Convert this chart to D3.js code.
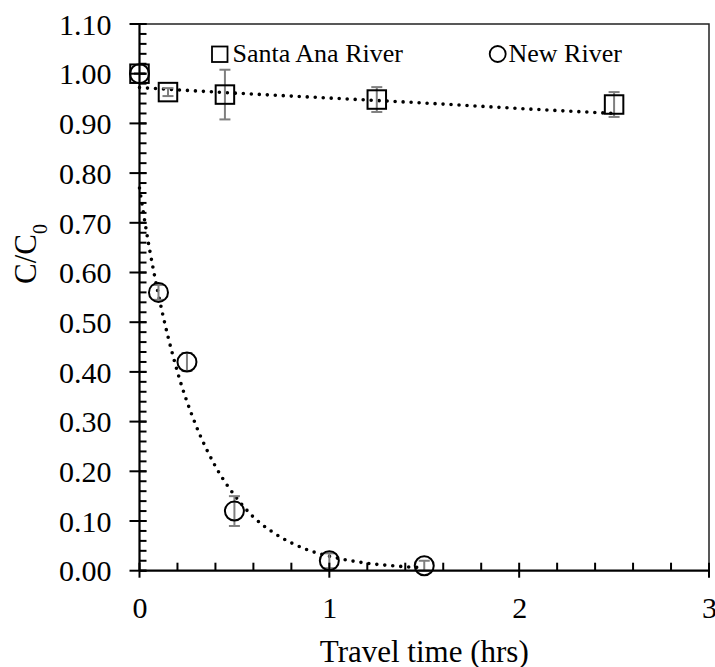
<!DOCTYPE html>
<html><head><meta charset="utf-8">
<script src="https://cdn.jsdelivr.net/npm/d3@7"></script>
<style>
html,body{margin:0;padding:0;background:#fff;}
svg text{font-family:"Liberation Serif","Times New Roman",serif !important;}
</style></head>
<body><svg id="c" width="715" height="667"></svg>
<script>
// ---- data ----
const saTime  = [0, 0.15, 0.45, 1.25, 2.5];
const saValue = [1.00, 0.963, 0.958, 0.948, 0.938];
const saError = [0, 0.008, 0.05, 0.025, 0.025];

const nrTime  = [0, 0.1, 0.25, 0.5, 1.0, 1.5];
const nrValue = [1.00, 0.56, 0.42, 0.12, 0.02, 0.01];
const nrError = [0, 0.015, 0.018, 0.03, 0.015, 0.01];

// trendlines
const saTrendX = [0, 0.5, 1.0, 1.5, 2.0, 2.5];
const saTrendY = [0.972, 0.961, 0.951, 0.941, 0.930, 0.920];
const nrTrendX = [0, 0.05, 0.1, 0.2, 0.3, 0.4, 0.5, 0.6, 0.7, 0.8, 0.9, 1.0, 1.1, 1.2, 1.3, 1.4, 1.5];
const nrTrendY = [0.77, 0.653, 0.555, 0.40, 0.29, 0.21, 0.152, 0.108, 0.078, 0.056, 0.04, 0.029, 0.021, 0.015, 0.011, 0.008, 0.006];

const xMajor = [0, 1, 2, 3];
const yMajor = d3.range(0, 12).map(i => +(i * 0.1).toFixed(2));
const seriesNames = ["Santa Ana River", "New River"];
const xTitle = "Travel time (hrs)";

// ---- layout ----
const FONT = "Liberation Serif, Times New Roman, serif";
const svg = d3.select("#c").attr("font-family", FONT);
const L = 139.5, R = 709, T = 24, B = 570.7;
const x = d3.scaleLinear().domain([0, 3]).range([L, R]);
const y = d3.scaleLinear().domain([0, 1.1]).range([B, T]);

// frame (top & right)
svg.append("path").attr("d", `M${L},${T}H${R}V${B}`)
  .attr("fill", "none").attr("stroke", "#222").attr("stroke-width", 1.5);

// trendlines
const line = d3.line().x(d => x(d[0])).y(d => y(d[1])).curve(d3.curveMonotoneX);
[[saTrendX, saTrendY], [nrTrendX, nrTrendY]].forEach(([xs, ys]) => {
  svg.append("path").datum(xs.map((v, i) => [v, ys[i]]))
    .attr("d", line).attr("fill", "none").attr("stroke", "#000")
    .attr("stroke-width", 3.6).attr("stroke-linecap", "round")
    .attr("stroke-dasharray", "0,8");
});

// error bars
function errBars(xs, vs, es) {
  const g = svg.append("g").attr("stroke", "#7f7f7f").attr("stroke-width", 2);
  xs.forEach((t, i) => {
    const cx = x(t), y1 = y(vs[i] + es[i]), y2 = y(vs[i] - es[i]);
    g.append("line").attr("x1", cx).attr("x2", cx).attr("y1", y1).attr("y2", y2);
    g.append("line").attr("x1", cx - 5.5).attr("x2", cx + 5.5).attr("y1", y1).attr("y2", y1);
    g.append("line").attr("x1", cx - 5.5).attr("x2", cx + 5.5).attr("y1", y2).attr("y2", y2);
  });
}
errBars(saTime, saValue, saError);
errBars(nrTime, nrValue, nrError);

// markers
const sq = 18.5;
svg.append("g").selectAll("rect").data(saTime.map((t, i) => [t, saValue[i]])).join("rect")
  .attr("x", d => x(d[0]) - sq / 2).attr("y", d => y(d[1]) - sq / 2)
  .attr("width", sq).attr("height", sq)
  .attr("fill", "none").attr("stroke", "#000").attr("stroke-width", 2);
svg.append("g").selectAll("circle").data(nrTime.map((t, i) => [t, nrValue[i]])).join("circle")
  .attr("cx", d => x(d[0])).attr("cy", d => y(d[1])).attr("r", 9.5)
  .attr("fill", "none").attr("stroke", "#000").attr("stroke-width", 2);

// axes (labels via d3 axes, ticks crossing / minor inside)
const xAxis = svg.append("g").attr("transform", `translate(0,${B})`)
  .call(d3.axisBottom(x).tickValues(xMajor).tickSize(0).tickPadding(0).tickFormat(d3.format("d")))
  .attr("font-family", FONT).attr("font-size", 30);
xAxis.select(".domain").remove();
xAxis.selectAll("text").attr("y", 47).attr("dy", 0).attr("fill", "#000");

const yAxis = svg.append("g").attr("transform", `translate(${L},0)`)
  .call(d3.axisLeft(y).tickValues(yMajor).tickSize(0).tickPadding(28).tickFormat(d3.format(".2f")))
  .attr("font-family", FONT).attr("font-size", 30);
yAxis.select(".domain").remove();
yAxis.selectAll("text").attr("dy", "0.34em").attr("fill", "#000");

const tg = svg.append("g").attr("stroke", "#000").attr("stroke-width", 2);
// x minor ticks
d3.range(0, 16).map(i => +(i * 0.2).toFixed(2)).filter(v => !xMajor.includes(v)).forEach(v => {
  tg.append("line").attr("x1", x(v)).attr("x2", x(v)).attr("y1", B).attr("y2", B - 8);
});
xMajor.forEach(v => {
  tg.append("line").attr("x1", x(v)).attr("x2", x(v)).attr("y1", B - 8).attr("y2", B + 7);
});
// y minor ticks
d3.range(0, 56).map(i => +(i * 0.02).toFixed(3)).forEach(v => {
  tg.append("line").attr("x1", L).attr("x2", L + 7).attr("y1", y(v)).attr("y2", y(v));
});
yMajor.forEach(v => {
  tg.append("line").attr("x1", L - 10).attr("x2", L + 7).attr("y1", y(v)).attr("y2", y(v));
});
// axis lines
svg.append("line").attr("x1", L).attr("x2", R).attr("y1", B).attr("y2", B)
  .attr("stroke", "#000").attr("stroke-width", 2.2);
svg.append("line").attr("x1", L).attr("x2", L).attr("y1", T).attr("y2", B)
  .attr("stroke", "#000").attr("stroke-width", 2.2);

// titles
svg.append("text").attr("x", (L + R) / 2).attr("y", 662).attr("text-anchor", "middle")
  .attr("font-size", 31).text(xTitle);
const yt = svg.append("text").attr("transform", "translate(36,284) rotate(-90)")
  .attr("text-anchor", "start").attr("font-size", 31);
yt.append("tspan").text("C/C");
yt.append("tspan").attr("baseline-shift", "sub").attr("font-size", 20).text("0");

// legend
const lg = svg.append("g");
lg.append("rect").attr("x", 212).attr("y", 46.5).attr("width", 15.5).attr("height", 15.5)
  .attr("fill", "none").attr("stroke", "#000").attr("stroke-width", 1.8);
lg.append("text").attr("x", 232.5).attr("y", 62).attr("font-size", 26).text(seriesNames[0]);
lg.append("circle").attr("cx", 497.7).attr("cy", 54).attr("r", 8)
  .attr("fill", "none").attr("stroke", "#000").attr("stroke-width", 1.8);
lg.append("text").attr("x", 508.5).attr("y", 62).attr("font-size", 26).text(seriesNames[1]);
</script></body></html>
